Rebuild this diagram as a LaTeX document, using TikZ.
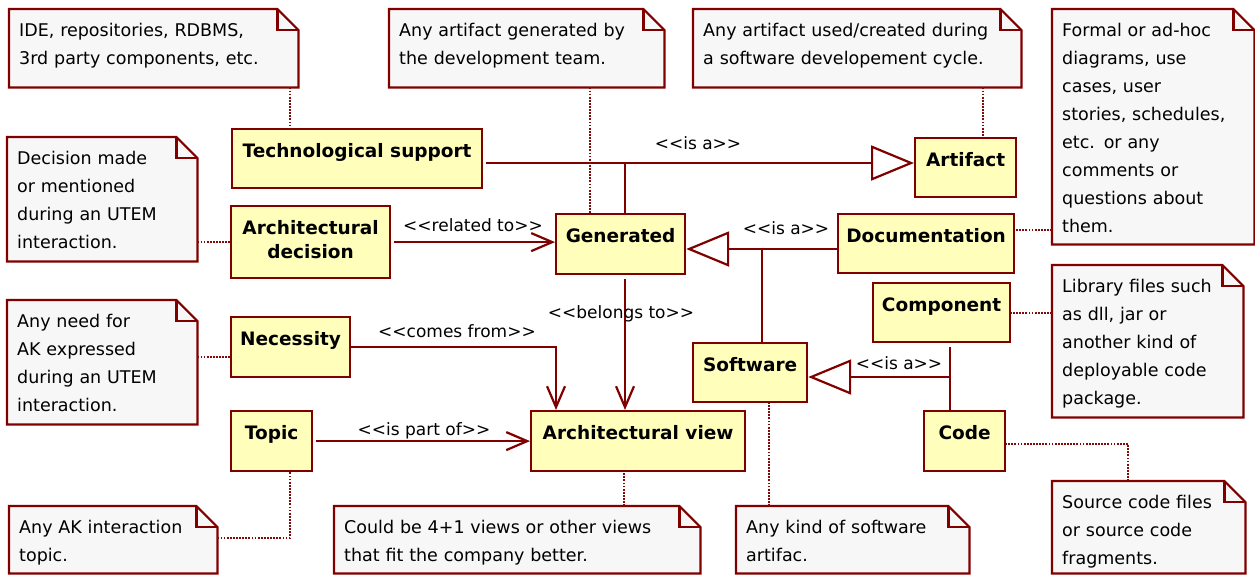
\documentclass[tikz,border=0pt]{standalone}
\usepackage{fontspec}
\setmainfont{DejaVu Sans}
\usetikzlibrary{arrows.meta,backgrounds,calc}
\definecolor{umlred}{RGB}{128,0,0}
\definecolor{dotred}{RGB}{130,10,10}
\definecolor{clsfill}{RGB}{255,255,187}
\definecolor{notefill}{RGB}{247,247,247}
\newcommand\notefont{\fontsize{17.5}{28}\selectfont}
\newcommand\clsfont{\fontsize{18.5}{24}\selectfont\bfseries}
\newcommand\lblfont{\fontsize{17}{20}\selectfont}
\newcommand\dogear[1]{%
  \draw[notebox] (#1.south west) -- (#1.north west) -- ([xshift=-21pt]#1.north east)
     -- ([yshift=-21pt]#1.north east) -- (#1.south east) -- cycle;
  \draw[notebox, fill=none] ([xshift=-21pt]#1.north east) -- ++(0,21) -- ([yshift=-21pt]#1.north east);
}
\begin{document}
\begin{tikzpicture}[x=1pt,y=-1pt,
  cls/.style={draw=umlred, fill=clsfill, line width=2.2pt, anchor=north west,
    inner sep=0pt, text height=28pt, align=center, font=\clsfont},
  note/.style={anchor=north west, inner xsep=10pt, inner ysep=0pt,
    text height=27pt, align=left, font=\notefont},
  notebox/.style={draw=umlred, fill=notefill, line width=2.2pt, line join=miter},
  line/.style={draw=umlred, line width=2.2pt},
  assoc/.style={line, -{Straight Barb[length=21pt,width=18pt]}},
  gen/.style={line, -{Triangle[length=43pt,width=35pt,fill=white]}},
  dot/.style={draw=dotred, line width=2.2pt, dash pattern=on 1.8pt off 1.3pt},
  lbl/.style={anchor=base, inner sep=0pt, font=\lblfont}]
\useasboundingbox (0,0) rectangle (1255,574);

% ---------- notes ----------
\node[note, text width=269pt, text depth=51pt] (n1) at (9,9)
  {IDE, repositories, RDBMS,\\3rd party components, etc.};
\node[note, text width=255pt, text depth=51pt] (n2) at (389,9)
  {Any artifact generated by\\the development team.};
\node[note, text width=308pt, text depth=51pt] (n3) at (693,9)
  {Any artifact used/created during\\a software developement cycle.};
\node[note, text width=182pt, text depth=208pt] (n4) at (1052,9)
  {Formal or ad-hoc\\diagrams, use\\cases, user\\stories, schedules,\\etc. or any\\comments or\\questions about\\them.};
\node[note, text width=170pt, text depth=97pt] (n5) at (7,137)
  {Decision made\\or mentioned\\during an UTEM\\interaction.};
\node[note, text width=170pt, text depth=97pt] (n6) at (7,300)
  {Any need for\\AK expressed\\during an UTEM\\interaction.};
\node[note, text width=171pt, text depth=125pt] (n7) at (1052,265)
  {Library files such\\as dll, jar or\\another kind of\\deployable code\\package.};
\node[note, text width=188pt, text depth=40pt] (n8) at (9,506)
  {Any AK interaction\\topic.};
\node[note, text width=346pt, text depth=40pt] (n9) at (334,506)
  {Could be 4+1 views or other views\\that fit the company better.};
\node[note, text width=213pt, text depth=40pt] (n10) at (736,506)
  {Any kind of software\\artifac.};
\node[note, text width=173pt, text depth=65pt] (n11) at (1052,481)
  {Source code files\\or source code\\fragments.};

\begin{pgfonlayer}{background}
  \dogear{n1}\dogear{n2}\dogear{n3}\dogear{n4}\dogear{n5}\dogear{n6}
  \dogear{n7}\dogear{n8}\dogear{n9}\dogear{n10}\dogear{n11}
\end{pgfonlayer}

% ---------- classes ----------
\node[cls, minimum width=250pt, text depth=31pt] (ts) at (231,128) {Technological support};
\node[cls, minimum width=101pt, text depth=31pt] (art) at (914,137) {Artifact};
\node[cls, minimum width=159pt, text height=52pt, text depth=20pt] (ad) at (230,205) {Architectural\\decision};
\node[cls, minimum width=129pt, text depth=32pt] (gen) at (555,213) {Generated};
\node[cls, minimum width=176pt, text depth=31pt] (doc) at (837,213) {Documentation};
\node[cls, minimum width=137pt, text depth=31pt] (comp) at (872,282) {Component};
\node[cls, minimum width=119pt, text depth=32pt] (nec) at (230,316) {Necessity};
\node[cls, minimum width=114pt, text depth=31pt] (sw) at (692,342) {Software};
\node[cls, minimum width=81pt, text depth=32pt] (topic) at (230,410) {Topic};
\node[cls, minimum width=214pt, text depth=32pt] (av) at (530,410) {Architectural view};
\node[cls, minimum width=81pt, text depth=32pt] (code) at (923,410) {Code};

% ---------- junction points ----------
\coordinate (j1) at (625,163);
\coordinate (j2) at (762,249);
\coordinate (j3) at (950,377);

% ---------- generalizations ----------
\draw[line, shorten <=3pt] (ts.east |- j1) -- (j1);
\draw[line] (gen.north -| j1) -- (j1);
\draw[gen] (j1) -- (art.west |- j1);
\draw[line] (doc.west |- j2) -- (j2);
\draw[line] (sw.north -| j2) -- (j2);
\draw[gen] (j2) -- (gen.east |- j2);
\draw[line, shorten <=4pt] (comp.south -| j3) -- (j3);
\draw[line] (code.north -| j3) -- (j3);
\draw[gen] (j3) -- (sw.east |- j3);

% ---------- associations ----------
\draw[assoc, shorten <=3pt] (ad.east) -- (ad.east -| gen.west);
\draw[assoc, shorten <=4pt] (gen.south -| j1) -- (av.north -| j1);
\draw[assoc] (nec.east) -| ([xshift=26pt]av.north west);
\draw[assoc, shorten <=3pt] (topic.east) -- (topic.east -| av.west);

% ---------- labels ----------
\node[lbl] (l1) at (698,149) {<{}<is a>{}>};
\node[lbl] (l2) at (473,231) {<{}<related to>{}>};
\node[lbl] (l3) at (786,234) {<{}<is a>{}>};
\node[lbl] (l4) at (621,318) {<{}<belongs to>{}>};
\node[lbl] (l5) at (457,337) {<{}<comes from>{}>};
\node[lbl] (l6) at (424,435) {<{}<is part of>{}>};
\node[lbl] (l7) at (899,369) {<{}<is a>{}>};

% ---------- note links ----------
\coordinate (d1) at (290,0);
\coordinate (d2) at (590,0);
\coordinate (d3) at (983,0);
\coordinate (d4) at (0,230);
\coordinate (d6) at (0,357);
\coordinate (d8) at (290,538);
\coordinate (d9) at (624,0);
\coordinate (d10) at (769,0);
\coordinate (d11) at (1128,444);
\draw[dot] (n1.south -| d1) -- (ts.north -| d1);
\draw[dot] (n2.south -| d2) -- (gen.north -| d2);
\draw[dot] (n3.south -| d3) -- (art.north -| d3);
\draw[dot] (n4.west |- d4) -- (doc.east |- d4);
\draw[dot] (n5.east |- ad.west) -- (ad.west);
\draw[dot] (n6.east |- d6) -- (nec.west |- d6);
\draw[dot] (n7.west |- comp.east) -- (comp.east);
\draw[dot] (n8.east |- d8) -- (d8) -- (topic.south -| d8);
\draw[dot] (n9.north -| d9) -- (av.south -| d9);
\draw[dot] (n10.north -| d10) -- (sw.south -| d10);
\draw[dot] (n11.north -| d11) -- (d11) -- (code.east |- d11);
\end{tikzpicture}
\end{document}
